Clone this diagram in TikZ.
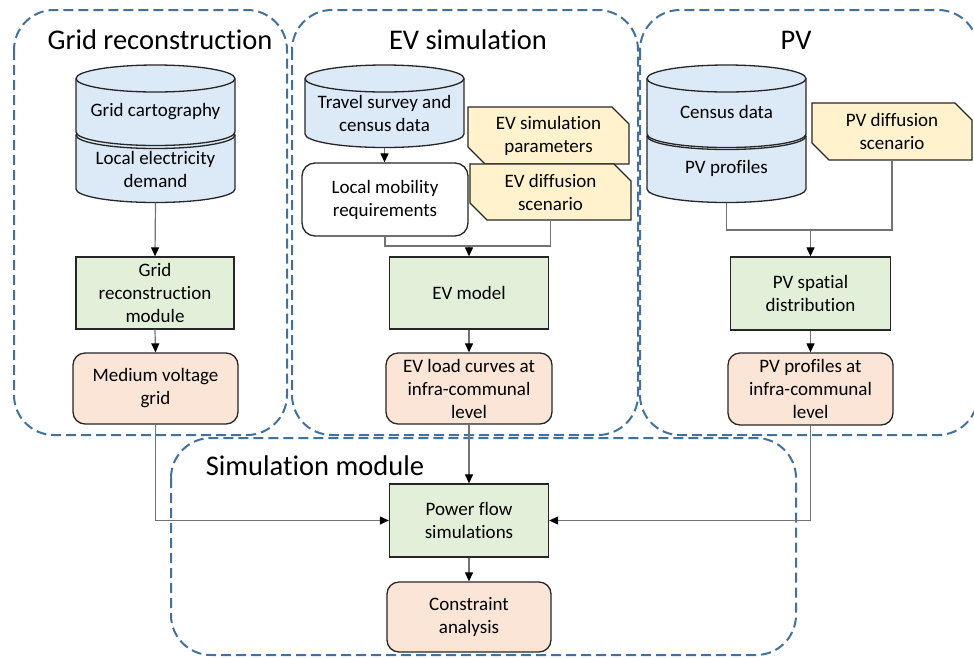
\documentclass[tikz,border=0pt]{standalone}
\usepackage{fontspec}
\setmainfont{Carlito}[Ligatures={NoCommon}]
\usetikzlibrary{arrows.meta}
\definecolor{dashblue}{RGB}{65,113,156}
\definecolor{cylblue}{RGB}{220,233,246}
\definecolor{boxgreen}{RGB}{226,240,217}
\definecolor{boxorange}{RGB}{251,229,214}
\definecolor{boxyellow}{RGB}{255,242,204}
\definecolor{lineg}{RGB}{115,115,115}
% cylinder: cx, rx, y of top ellipse centre, y of bottom ellipse centre, ry
\newcommand\drawcyl[5]{%
  \filldraw[cylpart] ({#1-#2},#3) -- ({#1-#2},#4)
    arc[start angle=180,end angle=0,x radius=#2,y radius=#5]
    -- ({#1+#2},#3)
    arc[start angle=0,end angle=-180,x radius=#2,y radius=#5] -- cycle;
  \draw[cylpart,fill=none] ({#1-#2},#3)
    arc[start angle=180,end angle=0,x radius=#2,y radius=#5];
}
% tag box: name, cx, cy, w, h, text
\newcommand\tagbox[6]{%
  \filldraw[tagpart] ({#2-#4/2},{#3-#5/2}) -- ({#2+#4/2-17},{#3-#5/2})
    -- ({#2+#4/2},{#3-#5/2+17}) -- ({#2+#4/2},{#3+#5/2})
    -- ({#2-#4/2+17},{#3+#5/2}) -- ({#2-#4/2},{#3+#5/2-17}) -- cycle;
  \node[body, minimum width=#4, minimum height=#5] (#1) at (#2,#3) {#6};
}
\begin{document}
\begin{tikzpicture}[x=1pt,y=-1pt,
  region/.style={draw=dashblue, line width=2pt, dash pattern=on 10pt off 5pt, rounded corners=40pt},
  cylpart/.style={draw=black!85, line width=1.3pt, fill=cylblue},
  tagpart/.style={draw=black!85, line width=1.3pt, fill=boxyellow},
  body/.style={font=\fontsize{19}{23}\selectfont, align=center, inner sep=0pt},
  title/.style={font=\fontsize{28.5}{34}\selectfont, anchor=base, inner sep=0pt},
  greenbox/.style={body, draw=black!85, line width=1.3pt, fill=boxgreen},
  orangebox/.style={body, draw=black!85, line width=1.3pt, fill=boxorange, rounded corners=12pt},
  whitebox/.style={body, draw=black!85, line width=1.3pt, fill=white, rounded corners=13pt},
  conn/.style={draw=lineg, line width=1.2pt},
  arr/.style={conn, -{Triangle[length=9pt,width=8pt,color=black]}},
  ghost/.style={draw=none, inner sep=0pt}
]
\useasboundingbox (0,0) rectangle (974,657);
\clip (0,0) rectangle (974,657);

% regions
\draw[region] (14,10) rectangle (287,435);
\draw[region] (292,10) rectangle (638,435);
\draw[region] (640,10) rectangle (978,435);
\draw[region] (171,438) rectangle (796,655);

% titles
\node[title] (tgrid) at (160,49) {Grid reconstruction};
\node[title] (tev) at (468,49) {EV simulation};
\node[title] (tpv) at (796,49) {PV};
\node[title] (tsim) at (315,475) {Simulation module};

% ---- Grid column ----
\drawcyl{155.5}{79.5}{135}{189}{13.5}
\drawcyl{155.5}{79.5}{78.5}{132}{13.5}
\node[ghost, minimum width=159, minimum height=137.5] (gcyl) at (155.5,133.75) {};
\node[body] (gcart) at (155.5,112) {Grid cartography};
\node[body] (gdem) at (155.5,169) {Local electricity\\demand};
\node[greenbox, minimum width=158, minimum height=72] (grm) at (155,293) {Grid\\reconstruction\\module};
\node[orangebox, minimum width=165, minimum height=71] (mvg) at (155.5,388.5) {Medium voltage\\grid};

% ---- EV column ----
\drawcyl{384.5}{79.5}{78.5}{134}{13.5}
\node[ghost, minimum width=159, minimum height=82.5] (evcyl) at (384.5,106.25) {};
\node[body] (evtxt) at (384.5,113) {Travel survey and\\census data};
\node[whitebox, minimum width=166, minimum height=73] (lmr) at (385,199.5) {Local mobility\\requirements};
\tagbox{evpar}{548.5}{135.5}{161}{57}{EV simulation\\parameters}
\tagbox{evdiff}{550.5}{192}{161}{56}{EV diffusion\\scenario}
\node[greenbox, minimum width=159, minimum height=72] (evm) at (469,293) {EV model};
\node[orangebox, minimum width=166, minimum height=71] (evl) at (469,388.5) {EV load curves at\\infra-communal\\level};

% ---- PV column ----
\drawcyl{726.5}{79.5}{136}{189}{13.5}
\drawcyl{726.5}{79.5}{78.5}{134}{13.5}
\node[ghost, minimum width=159, minimum height=137.5] (pvcyl) at (726.5,133.75) {};
\node[body] (pvcen) at (726.5,112) {Census data};
\node[body] (pvprof) at (726.5,168) {PV profiles};
\tagbox{pvdiff}{892}{131.5}{160}{57}{PV diffusion\\scenario}
\node[greenbox, minimum width=160, minimum height=73] (pvsd) at (810.5,293.5) {PV spatial\\distribution};
\node[orangebox, minimum width=165, minimum height=72] (pvp) at (810.5,389) {PV profiles at\\infra-communal\\level};

% ---- Simulation module ----
\node[greenbox, minimum width=159, minimum height=73] (pfs) at (469,520.5) {Power flow\\simulations};
\node[orangebox, minimum width=164, minimum height=70] (ca) at (469,617) {Constraint\\analysis};

% ---- connectors ----
\draw[arr] (gcyl.south) -- (grm.north);
\draw[arr] (grm.south) -- (mvg.north);
\draw[arr] (mvg.south) |- (pfs.west);

\draw[arr] (evcyl.south) -- (lmr.north -| evcyl.south);
\coordinate (evj) at (469,246);
\draw[conn] (lmr.south) |- (evj) -| (evdiff.south);
\draw[arr] (evj) -- (evm.north);
\draw[arr] (evm.south) -- (evl.north);
\draw[arr] (evl.south) -- (pfs.north);

\coordinate (pvj) at (810.5,230);
\draw[conn] (pvcyl.south) |- (pvj) -| (pvdiff.south);
\draw[arr] (pvj) -- (pvsd.north);
\draw[arr] (pvsd.south) -- (pvp.north);
\draw[arr] (pvp.south) |- (pfs.east);

\draw[arr] (pfs.south) -- (ca.north);
\end{tikzpicture}
\end{document}
